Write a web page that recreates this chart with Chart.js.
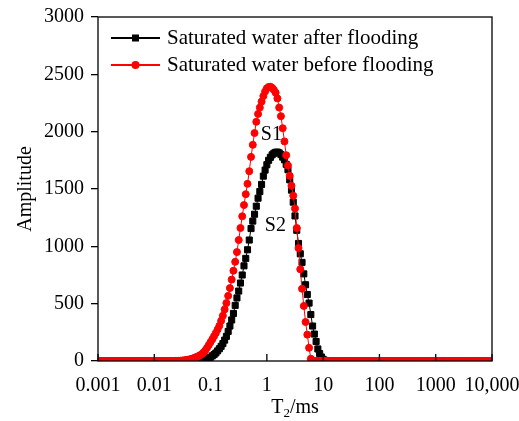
<!DOCTYPE html>
<html>
<head>
<meta charset="utf-8">
<script src="https://cdn.jsdelivr.net/npm/chart.js@4"></script>
<style>
  html, body { margin: 0; padding: 0; background: #fff; }
  canvas { display: block; }
</style>
</head>
<body>
<canvas id="t2Chart" width="519" height="421"></canvas>
<script>
// T2 grid in ms, 32 points per decade
var t2 = [
  1e-3,1.075e-3,1.155e-3,1.241e-3,1.334e-3,1.433e-3,1.540e-3,1.655e-3,1.778e-3,1.911e-3,2.054e-3,2.207e-3,2.371e-3,2.548e-3,2.738e-3,2.943e-3,3.162e-3,3.398e-3,3.652e-3,3.924e-3,4.217e-3,4.532e-3,4.870e-3,5.233e-3,5.623e-3,6.043e-3,6.494e-3,6.978e-3,7.499e-3,8.058e-3,8.660e-3,9.306e-3,
  1e-2,1.075e-2,1.155e-2,1.241e-2,1.334e-2,1.433e-2,1.540e-2,1.655e-2,1.778e-2,1.911e-2,2.054e-2,2.207e-2,2.371e-2,2.548e-2,2.738e-2,2.943e-2,3.162e-2,3.398e-2,3.652e-2,3.924e-2,4.217e-2,4.532e-2,4.870e-2,5.233e-2,5.623e-2,6.043e-2,6.494e-2,6.978e-2,7.499e-2,8.058e-2,8.660e-2,9.306e-2,
  1e-1,1.075e-1,1.155e-1,1.241e-1,1.334e-1,1.433e-1,1.540e-1,1.655e-1,1.778e-1,1.911e-1,2.054e-1,2.207e-1,2.371e-1,2.548e-1,2.738e-1,2.943e-1,3.162e-1,3.398e-1,3.652e-1,3.924e-1,4.217e-1,4.532e-1,4.870e-1,5.233e-1,5.623e-1,6.043e-1,6.494e-1,6.978e-1,7.499e-1,8.058e-1,8.660e-1,9.306e-1,
  1,1.075,1.155,1.241,1.334,1.433,1.540,1.655,1.778,1.911,2.054,2.207,2.371,2.548,2.738,2.943,3.162,3.398,3.652,3.924,4.217,4.532,4.870,5.233,5.623,6.043,6.494,6.978,7.499,8.058,8.660,9.306,
  1e1,1.075e1,1.155e1,1.241e1,1.334e1,1.433e1,1.540e1,1.655e1,1.778e1,1.911e1,2.054e1,2.207e1,2.371e1,2.548e1,2.738e1,2.943e1,3.162e1,3.398e1,3.652e1,3.924e1,4.217e1,4.532e1,4.870e1,5.233e1,5.623e1,6.043e1,6.494e1,6.978e1,7.499e1,8.058e1,8.660e1,9.306e1,
  1e2,1.075e2,1.155e2,1.241e2,1.334e2,1.433e2,1.540e2,1.655e2,1.778e2,1.911e2,2.054e2,2.207e2,2.371e2,2.548e2,2.738e2,2.943e2,3.162e2,3.398e2,3.652e2,3.924e2,4.217e2,4.532e2,4.870e2,5.233e2,5.623e2,6.043e2,6.494e2,6.978e2,7.499e2,8.058e2,8.660e2,9.306e2,
  1e3,1.075e3,1.155e3,1.241e3,1.334e3,1.433e3,1.540e3,1.655e3,1.778e3,1.911e3,2.054e3,2.207e3,2.371e3,2.548e3,2.738e3,2.943e3,3.162e3,3.398e3,3.652e3,3.924e3,4.217e3,4.532e3,4.870e3,5.233e3,5.623e3,6.043e3,6.494e3,6.978e3,7.499e3,8.058e3,8.660e3,9.306e3,
  1e4
];

// amplitude, saturated water after flooding (black squares)
var afterFlooding = [
  0,0,0,0,0,0,0,0,0,0,0,0,0,0,0,0,0,0,0,0,0,0,0,0,0,0,0,0,0,0,0,0,
  0,0,0,0,0,0,0,0,0,0,0,0,0,0,0,0,0,0,0,0,0,0,0,0,0,0,0,0,6,12,18,25,
  33,45,56,70,88,107,128,152,182,215,258,305,358,415,485,550,610,680,750,830,895,970,1055,1155,1220,1280,1350,1420,1478,1540,1612,1665,
  1712,1750,1776,1798,1812,1820,1822,1815,1800,1778,1755,1715,1668,1580,1490,1385,1265,1140,1025,935,860,760,665,580,505,405,305,235,170,105,65,35,
  15,5,0,0,0,0,0,0,0,0,0,0,0,0,0,0,0,0,0,0,0,0,0,0,0,0,0,0,0,0,0,0,
  0,0,0,0,0,0,0,0,0,0,0,0,0,0,0,0,0,0,0,0,0,0,0,0,0,0,0,0,0,0,0,0,
  0,0,0,0,0,0,0,0,0,0,0,0,0,0,0,0,0,0,0,0,0,0,0,0,0,0,0,0,0,0,0,0,
  0
];

// amplitude, saturated water before flooding (red circles)
var beforeFlooding = [
  0,0,0,0,0,0,0,0,0,0,0,0,0,0,0,0,0,0,0,0,0,0,0,0,0,0,0,0,0,0,0,0,
  0,0,0,0,0,0,0,0,0,0,0,0,1,1,2,3,4,6,8,11,14,18,23,28,35,42,50,60,75,92,115,140,
  165,190,217,245,275,307,350,395,450,505,568,636,710,787,865,950,1055,1160,1262,1360,1455,1545,1655,1780,1885,1988,2086,2155,2210,2262,2310,2350,
  2378,2390,2392,2382,2364,2340,2290,2210,2135,2030,1915,1795,1705,1615,1528,1442,1330,1160,985,800,630,480,340,230,115,20,0,0,0,0,0,0,
  0,0,0,0,0,0,0,0,0,0,0,0,0,0,0,0,0,0,0,0,0,0,0,0,0,0,0,0,0,0,0,0,
  0,0,0,0,0,0,0,0,0,0,0,0,0,0,0,0,0,0,0,0,0,0,0,0,0,0,0,0,0,0,0,0,
  0,0,0,0,0,0,0,0,0,0,0,0,0,0,0,0,0,0,0,0,0,0,0,0,0,0,0,0,0,0,0,0,
  0
];

var seriesNames = ['Saturated water after flooding', 'Saturated water before flooding'];
var seriesColors = ['#000000', '#ff0000'];
var tickValues = [0.001, 0.01, 0.1, 1, 10, 100, 1000, 10000];
var tickLabels = ['0.001', '0.01', '0.1', '1', '10', '100', '1000', '10,000'];

// peak labels, placed in data units
var peakNames = ['S1', 'S2'];
var peakT2 = [1.2, 1.42];
var peakAmp = [1970, 1183];

var serif = '"Liberation Serif", "Times New Roman", serif';
Chart.defaults.color = '#000';
Chart.defaults.font.family = serif;

function toPoints(ys) {
  return t2.map(function (t, i) { return { x: t, y: ys[i] }; });
}

var extrasPlugin = {
  id: 'extras',
  afterDatasetsDraw: function (chart) {
    var ctx = chart.ctx;
    var a = chart.chartArea;
    var xs = chart.scales.x, ys = chart.scales.y;
    ctx.save();

    // plot frame
    ctx.strokeStyle = '#000';
    ctx.lineWidth = 1.3;
    ctx.strokeRect(a.left, a.top, a.right - a.left, a.bottom - a.top);

    // inward ticks on the T2 axis
    ctx.beginPath();
    tickValues.forEach(function (v) {
      var px = xs.getPixelForValue(v);
      ctx.moveTo(px, a.bottom);
      ctx.lineTo(px, a.bottom - 7);
    });
    ctx.stroke();

    // legend inside the plot
    ctx.font = '21px ' + serif;
    ctx.textBaseline = 'middle';
    ctx.textAlign = 'left';
    seriesNames.forEach(function (name, i) {
      var y = a.top + 21 + i * 27;
      var x0 = a.left + 13;
      ctx.strokeStyle = seriesColors[i];
      ctx.fillStyle = seriesColors[i];
      ctx.lineWidth = 2;
      ctx.beginPath();
      ctx.moveTo(x0, y);
      ctx.lineTo(x0 + 49, y);
      ctx.stroke();
      if (i === 0) {
        ctx.fillRect(x0 + 24.5 - 3.5, y - 3.5, 7, 7);
      } else {
        ctx.beginPath();
        ctx.arc(x0 + 24.5, y, 4, 0, Math.PI * 2);
        ctx.fill();
      }
      ctx.fillStyle = '#000';
      ctx.fillText(name, x0 + 56, y + 0.5);
    });

    // peak labels
    ctx.font = '20px ' + serif;
    ctx.textAlign = 'center';
    peakNames.forEach(function (n, i) {
      ctx.fillText(n, xs.getPixelForValue(peakT2[i]), ys.getPixelForValue(peakAmp[i]));
    });

    // y title
    ctx.save();
    ctx.translate(26, (a.top + a.bottom) / 2);
    ctx.rotate(-Math.PI / 2);
    ctx.textAlign = 'center';
    ctx.fillText('Amplitude', 0, 0);
    ctx.restore();

    // x title with subscript
    var big = '20px ' + serif, small = '13px ' + serif;
    ctx.textAlign = 'left';
    ctx.textBaseline = 'alphabetic';
    ctx.font = big;
    var wT = ctx.measureText('T').width, wR = ctx.measureText('/ms').width;
    ctx.font = small;
    var w2 = ctx.measureText('2').width;
    var total = wT + w2 + wR;
    var sx = (a.left + a.right) / 2 - total / 2;
    var by = 413;
    ctx.font = big;
    ctx.fillText('T', sx, by);
    ctx.font = small;
    ctx.fillText('2', sx + wT, by + 4);
    ctx.font = big;
    ctx.fillText('/ms', sx + wT + w2, by);

    ctx.restore();
  }
};

var ctx = document.getElementById('t2Chart').getContext('2d');
var t2Chart = new Chart(ctx, {
  type: 'line',
  data: {
    datasets: [{
      label: seriesNames[0],
      data: toPoints(afterFlooding),
      borderColor: seriesColors[0],
      backgroundColor: seriesColors[0],
      borderWidth: 1,
      pointStyle: 'rect',
      pointRadius: 4.3,
      pointBorderWidth: 1,
      order: 1
    }, {
      label: seriesNames[1],
      data: toPoints(beforeFlooding),
      borderColor: seriesColors[1],
      backgroundColor: seriesColors[1],
      borderWidth: 1,
      pointStyle: 'circle',
      pointRadius: 3.5,
      pointBorderWidth: 1,
      order: 0
    }]
  },
  options: {
    responsive: false,
    animation: false,
    devicePixelRatio: 1,
    layout: { padding: { top: 17, right: 27, left: 0, bottom: 0 } },
    elements: { line: { tension: 0 } },
    plugins: {
      legend: { display: false },
      tooltip: { enabled: false }
    },
    scales: {
      x: {
        type: 'logarithmic',
        min: 0.001,
        max: 10000,
        grid: { display: false },
        border: { display: false },
        afterBuildTicks: function (scale) {
          scale.ticks = tickValues.map(function (v) { return { value: v }; });
        },
        ticks: {
          autoSkip: false,
          maxRotation: 0,
          padding: 5,
          font: { size: 20 },
          callback: function (v, i) { return tickLabels[i]; }
        },
        afterFit: function (scale) {
          scale.height = 60;
          scale.paddingLeft = 0;
          scale.paddingRight = 0;
        }
      },
      y: {
        min: 0,
        max: 3000,
        border: { display: false },
        grid: { drawOnChartArea: false, drawTicks: true, tickLength: 7, color: '#000', lineWidth: 1.3 },
        ticks: {
          stepSize: 500,
          padding: 7,
          font: { size: 20 },
          callback: function (v) { return String(v); }
        },
        afterFit: function (scale) {
          scale.width = 98;
          scale.paddingTop = 0;
          scale.paddingBottom = 0;
        }
      }
    }
  },
  plugins: [extrasPlugin]
});
</script>
</body>
</html>
